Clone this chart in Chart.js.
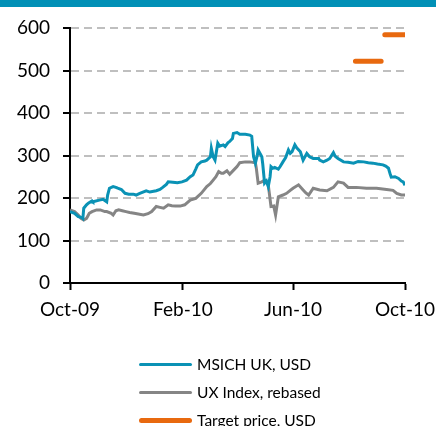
<!DOCTYPE html>
<html>
<head>
<meta charset="utf-8">
<script src="https://cdn.jsdelivr.net/npm/chart.js@4.4.1/dist/chart.umd.min.js"></script>
<style>
   html, body { margin: 0; padding: 0; background: #fff; }
   #wrap { position: relative; width: 436px; height: 426px; overflow: hidden; }
   #band { position: absolute; left: 0; top: 0; width: 436px; height: 7px; background: #0190b6; }
   #legend { position: absolute; left: 139px; top: 350px; margin: 0; padding: 0; list-style: none;
      font-family: Lato, sans-serif; font-size: 15.5px; color: #000; }
   #legend li { display: flex; align-items: center; height: 28px; white-space: nowrap; }
   #legend .swatch { width: 53px; margin-right: 5px; border-radius: 3px; }
</style>
</head>
<body>
<div id="wrap">
   <canvas id="priceChart" width="436" height="426"></canvas>
   <div id="band"></div>
   <ul id="legend"></ul>
</div>
<script>
// x values are days since 1 Oct 2009
const tickDays = [0, 123, 243, 365];
const tickLabels = ['Oct-09', 'Feb-10', 'Jun-10', 'Oct-10'];

const msichDays = [0, 5, 9, 13, 14, 15, 18, 20, 24, 25, 32, 36, 40, 41, 43, 47, 50, 52, 56, 60,
   64, 69, 72, 76, 83, 87, 94, 98, 101, 105, 107, 112, 117, 122, 127, 131, 134, 137, 139, 143,
   147, 149, 153, 154, 156, 158, 161, 163, 167, 169, 172, 174, 177, 178, 182, 185, 191, 196, 198, 200,
   202, 204, 205, 209, 210, 212, 214, 216, 218, 219, 221, 223, 227, 229, 232, 235, 238, 240, 242, 245,
   247, 251, 254, 258, 261, 265, 271, 272, 276, 280, 283, 287, 289, 292, 298, 303, 309, 314, 320, 325,
   330, 335, 341, 344, 347, 349, 350, 354, 358, 361, 363, 365];
const msichValues = [168, 164, 156, 154, 152, 176, 184, 188, 193, 191, 195, 197, 191, 207, 223, 227, 225, 223, 220, 211,
   209, 209, 207, 211, 217, 214, 217, 220, 225, 232, 238, 237, 236, 238, 242, 250, 254, 268, 278, 285,
   287, 289, 297, 317, 297, 289, 329, 322, 325, 321, 330, 333, 340, 352, 354, 350, 350, 348, 345, 297,
   282, 300, 313, 297, 280, 235, 240, 227, 250, 274, 270, 272, 268, 274, 285, 295, 313, 305, 309, 325,
   318, 309, 289, 305, 297, 293, 293, 289, 285, 289, 293, 307, 298, 293, 285, 284, 282, 286, 285, 283,
   282, 280, 278, 275, 270, 255, 249, 250, 246, 240, 238, 230];

const uxDays = [0, 5, 9, 12, 15, 18, 19, 21, 24, 29, 33, 38, 40, 45, 47, 50, 53, 57, 61, 65,
   70, 80, 85, 89, 94, 98, 102, 107, 111, 115, 120, 125, 131, 137, 143, 149, 153, 156, 159, 162,
   165, 167, 171, 174, 178, 182, 185, 191, 196, 202, 203, 205, 209, 212, 216, 219, 222, 224, 227, 232,
   236, 240, 243, 249, 254, 257, 260, 265, 272, 280, 287, 292, 298, 303, 312, 323, 334, 345, 352, 356,
   361, 365];
const uxValues = [172, 168, 160, 152, 148, 152, 156, 164, 168, 172, 172, 168, 168, 164, 160, 170, 172, 170, 168, 166,
   164, 160, 163, 168, 180, 178, 176, 184, 182, 181, 181, 184, 195, 199, 211, 227, 234, 242, 250, 262,
   258, 258, 264, 256, 265, 274, 283, 285, 285, 283, 270, 235, 238, 242, 231, 180, 181, 160, 203, 207,
   211, 218, 223, 231, 219, 212, 207, 223, 219, 217, 225, 238, 235, 225, 225, 223, 223, 220, 218, 211,
   207, 207];

// two flat target-price periods, null breaks the line between them
const targetDays = [311, 339, 341, 343, 365];
const targetValues = [522, 522, null, 584, 584];

function toPoints(xs, ys) {
   return xs.map((x, i) => ({ x: x, y: ys[i] }));
}

Chart.defaults.font.family = 'Lato, sans-serif';
Chart.defaults.color = '#000';

const ctx = document.getElementById('priceChart').getContext('2d');
const chart = new Chart(ctx, {
   type: 'line',
   data: {
      datasets: [
         {
            label: 'MSICH UK, USD',
            data: toPoints(msichDays, msichValues),
            borderColor: '#0a92b5',
            borderWidth: 3,
            pointRadius: 0,
            tension: 0
         },
         {
            label: 'UX Index, rebased',
            data: toPoints(uxDays, uxValues),
            borderColor: '#858585',
            borderWidth: 3,
            pointRadius: 0,
            tension: 0
         },
         {
            label: 'Target price, USD',
            data: toPoints(targetDays, targetValues),
            borderColor: '#e8690f',
            borderWidth: 5,
            borderCapStyle: 'round',
            pointRadius: 0,
            spanGaps: false
         }
      ]
   },
   options: {
      responsive: false,
      animation: false,
      devicePixelRatio: 1,
      layout: { padding: { left: 0, top: 28, right: 31, bottom: 103 } },
      plugins: {
         legend: { display: false },
         tooltip: { enabled: false }
      },
      scales: {
         x: {
            type: 'linear',
            min: 0,
            max: 365,
            afterBuildTicks: scale => { scale.ticks = tickDays.map(v => ({ value: v })); },
            afterFit: scale => {
               scale.height = 40;
               scale.paddingLeft = 0;
               scale.paddingRight = 0;
            },
            ticks: {
               autoSkip: false,
               maxRotation: 0,
               padding: 8,
               font: { size: 19 },
               callback: v => tickLabels[tickDays.indexOf(v)]
            },
            grid: {
               drawOnChartArea: false,
               tickLength: 7,
               tickWidth: 2,
               tickColor: '#000'
            },
            border: { color: '#000', width: 2 }
         },
         y: {
            min: 0,
            max: 600,
            afterFit: scale => { scale.width = 70; },
            ticks: {
               stepSize: 100,
               padding: 13,
               font: { size: 19 }
            },
            grid: {
               color: c => c.tick.value === 0 ? 'rgba(0,0,0,0)' : '#bfbfbf',
               lineWidth: 2,
               tickLength: 7,
               tickWidth: 2,
               tickColor: '#000'
            },
            border: { color: '#000', width: 2, dash: [8, 5] }
         }
      }
   }
});

// legend as a left-aligned column under the chart
const legend = document.getElementById('legend');
chart.data.datasets.forEach(ds => {
   const li = document.createElement('li');
   const sw = document.createElement('span');
   sw.className = 'swatch';
   sw.style.height = ds.borderWidth + 'px';
   sw.style.background = ds.borderColor;
   li.appendChild(sw);
   li.appendChild(document.createTextNode(ds.label));
   legend.appendChild(li);
});
</script>
</body>
</html>
